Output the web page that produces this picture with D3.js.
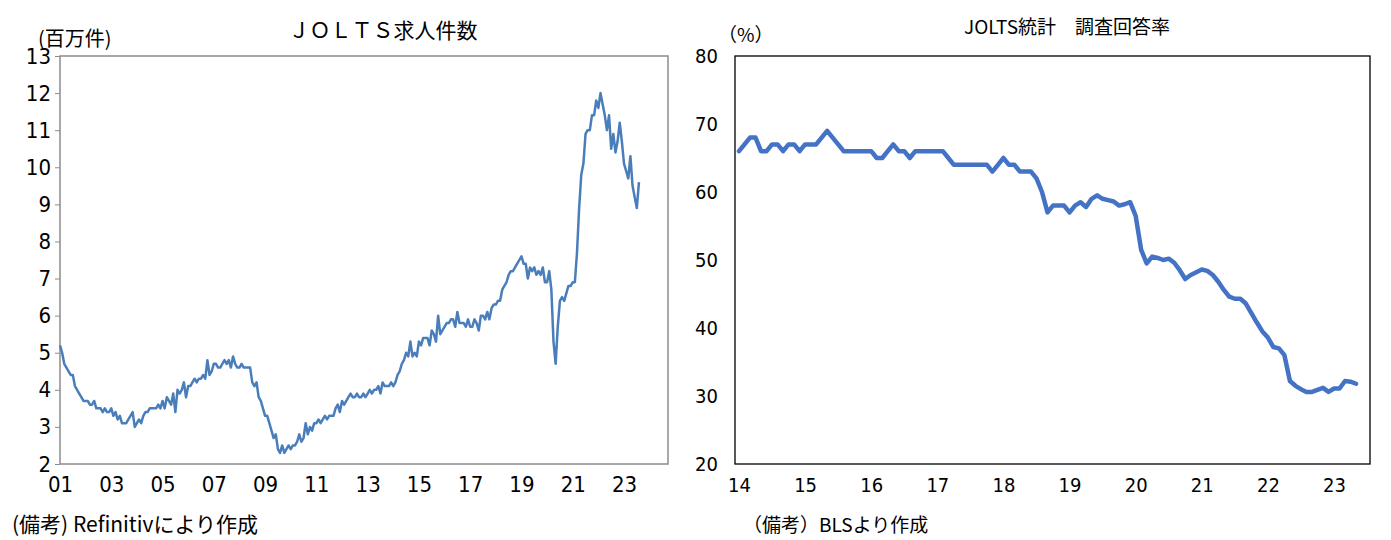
<!DOCTYPE html>
<html><head><meta charset="utf-8">
<script src="https://cdn.jsdelivr.net/npm/d3@7"></script>
<style>body{margin:0;background:#fff}svg{display:block}</style>
</head><body><svg id="c" width="1391" height="540"></svg>
<script>
// Left chart: JOLTS job openings (millions), monthly 2001-01 .. 2023-08
const openings = [
5.2,5.0,4.7,4.6,4.5,4.4,4.4,4.1,4.0,3.9,3.8,3.7,
3.7,3.7,3.6,3.6,3.7,3.5,3.5,3.5,3.4,3.5,3.4,3.4,
3.5,3.3,3.4,3.2,3.3,3.1,3.1,3.1,3.2,3.3,3.4,3.0,
3.1,3.2,3.1,3.3,3.4,3.4,3.5,3.5,3.5,3.5,3.6,3.5,
3.7,3.5,3.8,3.7,3.6,3.9,3.4,4.0,3.9,4.0,4.2,3.8,
4.1,4.1,4.2,4.3,4.2,4.3,4.3,4.4,4.3,4.8,4.4,4.5,
4.7,4.7,4.6,4.6,4.7,4.8,4.7,4.8,4.6,4.9,4.7,4.6,
4.6,4.7,4.6,4.6,4.6,4.6,4.2,4.1,4.2,3.8,3.7,3.5,
3.3,3.3,3.1,2.9,2.7,2.8,2.4,2.3,2.5,2.3,2.4,2.5,
2.4,2.5,2.5,2.6,2.8,2.6,2.7,3.1,2.8,3.0,2.9,3.1,
3.1,3.2,3.1,3.2,3.3,3.2,3.3,3.3,3.3,3.5,3.6,3.4,
3.7,3.6,3.7,3.8,3.9,3.8,3.8,3.9,3.8,3.8,3.9,3.8,
3.9,4.0,3.9,4.0,4.0,4.1,3.9,4.2,4.1,4.1,4.1,4.2,
4.1,4.2,4.4,4.5,4.7,4.8,5.0,4.9,5.3,4.9,5.0,4.9,
5.3,5.2,5.4,5.4,5.4,5.2,5.6,5.5,5.3,6.0,5.5,5.6,
5.7,5.8,5.8,5.9,5.9,5.7,6.1,5.8,5.8,5.8,5.7,5.9,
5.7,5.7,5.9,5.8,5.6,6.0,6.0,5.9,6.1,5.9,6.2,6.3,
6.3,6.4,6.4,6.7,6.8,6.9,7.1,7.2,7.2,7.3,7.4,7.5,
7.6,7.4,7.4,7.0,7.3,7.2,7.3,7.1,7.2,7.1,7.3,6.9,
6.9,7.2,6.7,5.3,4.7,5.7,6.4,6.5,6.4,6.6,6.8,6.8,
6.9,6.9,7.7,8.9,9.8,10.1,10.9,11.0,11.0,11.4,11.4,11.8,
11.6,12.0,11.7,11.4,11.0,11.4,10.5,10.9,10.4,10.7,11.2,10.7,
10.1,9.9,9.7,10.3,9.5,9.2,8.9,9.6];
const openingsStart = 2001;
const leftYTicks = [2,3,4,5,6,7,8,9,10,11,12,13];
const leftXTicks = ["01","03","05","07","09","11","13","15","17","19","21","23"];

// Right chart: JOLTS response rate (%), monthly 2014-01 .. 2023-05
const response = [
66,67,68,68,66,66,67,67,66,67,67,66,
67,67,67,68,69,68,67,66,66,66,66,66,
66,65,65,66,67,66,66,65,66,66,66,66,
66,66,65,64,64,64,64,64,64,64,63,64,
65,64,64,63,63,63,62,60,57,58,58,58,
57,58,58.5,57.8,59,59.5,59,58.8,58.6,58,58.2,58.5,
56.5,51.5,49.5,50.5,50.3,50,50.2,49.6,48.5,47.2,47.8,48.2,
48.6,48.4,47.8,46.8,45.6,44.6,44.3,44.3,43.6,42.2,40.8,39.5,
38.6,37.2,37,36,32.2,31.5,31,30.6,30.6,30.9,31.2,30.6,
31.1,31.1,32.2,32.1,31.8];
const responseStart = 2014;
const rightYTicks = [20,30,40,50,60,70,80];
const rightXTicks = ["14","15","16","17","18","19","20","21","22","23"];

const svg = d3.select("#c");
const numFont = "'Liberation Sans Narrow','DejaVu Sans Condensed',sans-serif";
const jpFont = "'Noto Sans CJK JP',sans-serif";

// ---- Left
{
  const L=60,R=668,T=56,B=464;
  const x = d3.scaleLinear().domain([2001,2023]).range([60,624]);
  const y = d3.scaleLinear().domain([2,13]).range([B,T]);
  const g = svg.append("g");
  g.append("rect").attr("x",L).attr("y",T).attr("width",R-L).attr("height",B-T)
    .attr("fill","none").attr("stroke","#8c8c8c").attr("stroke-width",1.5);
  const ya = g.append("g").attr("transform",`translate(${L},0)`)
    .call(d3.axisLeft(y).tickValues(leftYTicks).tickSize(5).tickPadding(4));
  ya.select(".domain").remove();
  ya.selectAll("line").attr("stroke","#8c8c8c");
  ya.selectAll("text").attr("font-family",numFont).attr("font-size",22).attr("fill","#000");
  const xa = g.append("g").attr("transform",`translate(0,${B})`)
    .call(d3.axisBottom(x).tickValues(leftXTicks.map(s=>2000+ +s)).tickFormat((d,i)=>leftXTicks[i]).tickSize(0).tickPadding(12));
  xa.select(".domain").remove();
  xa.selectAll("text").attr("font-family",numFont).attr("font-size",22).attr("fill","#000");
  const line = d3.line().x((d,i)=>x(openingsStart+i/12)).y(d=>y(d));
  g.append("path").datum(openings).attr("d",line).attr("fill","none")
    .attr("stroke","#4a7ebb").attr("stroke-width",2.5).attr("stroke-linejoin","round");
  g.append("text").attr("x",383).attr("y",38).attr("text-anchor","middle")
    .attr("font-family",jpFont).attr("font-size",21).text("ＪＯＬＴＳ求人件数");
  g.append("text").attr("x",38).attr("y",46).attr("font-family",jpFont).attr("font-size",20).text("(百万件)");
  g.append("text").attr("x",12).attr("y",532).attr("font-family",jpFont).attr("font-size",21).text("(備考) Refinitivにより作成");
}
// ---- Right
{
  const L=735,R=1370,T=56,B=464;
  const x = d3.scaleLinear().domain([2014,2023]).range([739,1334]);
  const y = d3.scaleLinear().domain([20,80]).range([B,T]);
  const g = svg.append("g");
  g.append("rect").attr("x",L).attr("y",T).attr("width",R-L).attr("height",B-T)
    .attr("fill","none").attr("stroke","#000").attr("stroke-width",1.3);
  const ya = g.append("g").attr("transform",`translate(${L},0)`)
    .call(d3.axisLeft(y).tickValues(rightYTicks).tickSize(0).tickPadding(17));
  ya.select(".domain").remove();
  ya.selectAll("text").attr("font-family",numFont).attr("font-size",20).attr("fill","#000");
  const xa = g.append("g").attr("transform",`translate(0,${B})`)
    .call(d3.axisBottom(x).tickValues(rightXTicks.map(s=>2000+ +s)).tickFormat((d,i)=>rightXTicks[i]).tickSize(0).tickPadding(14));
  xa.select(".domain").remove();
  xa.selectAll("text").attr("font-family",numFont).attr("font-size",20).attr("fill","#000");
  const line = d3.line().x((d,i)=>x(responseStart+i/12)).y(d=>y(d));
  g.append("path").datum(response).attr("d",line).attr("fill","none")
    .attr("stroke","#4472c4").attr("stroke-width",4.5).attr("stroke-linejoin","round").attr("stroke-linecap","round");
  g.append("text").attr("x",1067).attr("y",34).attr("text-anchor","middle")
    .attr("font-family",jpFont).attr("font-size",19).text("JOLTS統計　調査回答率");
  g.append("text").attr("x",718).attr("y",42).attr("font-family",jpFont).attr("font-size",19).text("（%）");
  g.append("text").attr("x",743).attr("y",532).attr("font-family",jpFont).attr("font-size",19).text("（備考）BLSより作成");
}
</script></body></html>
